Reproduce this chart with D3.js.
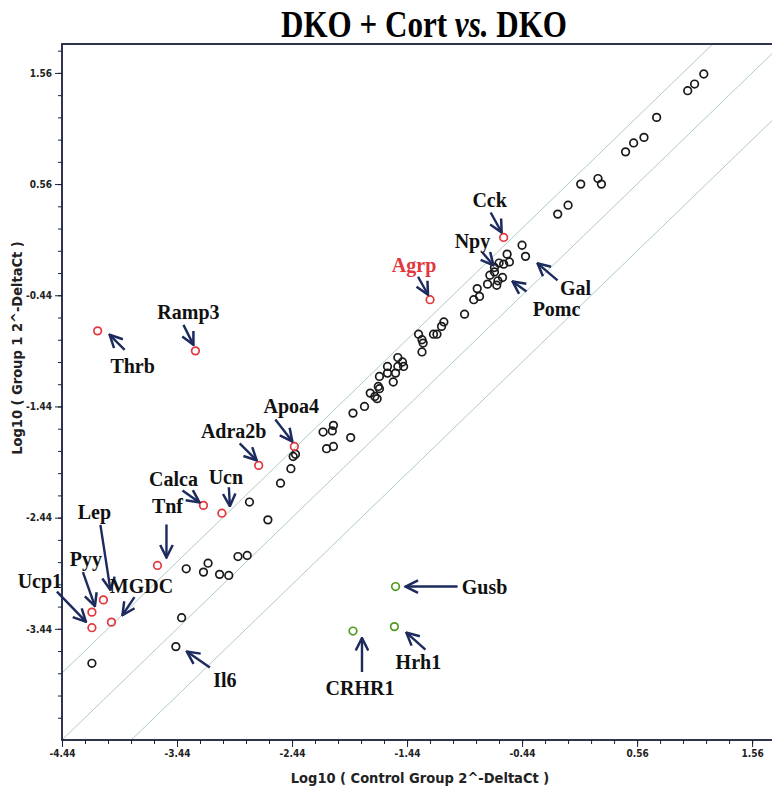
<!DOCTYPE html>
<html>
<head>
<meta charset="utf-8">
<script src="https://d3js.org/d3.v7.min.js"></script>
<style>
body { margin: 0; background: #fff; }
.axis text { font-family: "DejaVu Sans Condensed", "Liberation Sans Narrow", sans-serif; font-size: 10px; font-weight: bold; fill: #222; }
.axis path, .axis line { stroke: #1b1f3a; }
.gene { font-family: "Liberation Serif", "Times New Roman", serif; font-weight: bold; font-size: 20px; }
.atitle { font-family: "DejaVu Sans Condensed", "Liberation Sans Narrow", sans-serif; font-size: 14.5px; font-weight: bold; fill: #222; }
</style>
</head>
<body>
<div id="chart"></div>
<script>

// log10(2^-DeltaCt)
var otherControl = [1.14, 1.06, 1.00, 0.73, 0.62, 0.53, 0.46, 0.22, 0.25, 0.07, -0.04, -0.13,
  -0.44, -0.57, -0.64, -0.60, -0.55, -0.72, -0.68, -0.74, -0.66, -0.65, -0.83, -0.81, -0.86,
  -0.94, -1.12, -1.14, -1.21, -1.18, -1.34, -1.31, -1.30, -1.31, -1.52, -1.48, -1.52, -1.47,
  -1.61, -1.54, -1.61, -1.68, -1.56, -1.76, -1.69, -1.68, -1.72, -1.70, -1.81, -1.91, -2.08,
  -2.09, -2.17, -1.93, -2.08, -2.14, -2.41, -2.43, -2.45, -2.54, -2.81, -2.65, -2.91, -2.83,
  -3.17, -3.21, -3.36, -3.07, -2.99, -3.40, -4.18];
var otherGroup1 = [1.55, 1.46, 1.40, 1.16, 0.98, 0.93, 0.85, 0.61, 0.56, 0.56, 0.37, 0.29,
  0.01, -0.07, -0.15, -0.16, -0.14, -0.26, -0.23, -0.34, -0.35, -0.31, -0.38, -0.45, -0.48,
  -0.61, -0.68, -0.72, -0.79, -0.79, -0.79, -0.84, -0.87, -0.95, -1.00, -1.04, -1.08, -1.08,
  -1.08, -1.14, -1.14, -1.17, -1.22, -1.32, -1.26, -1.28, -1.35, -1.37, -1.44, -1.50, -1.61,
  -1.66, -1.67, -1.72, -1.80, -1.82, -1.87, -1.89, -2.00, -2.13, -2.30, -2.46, -2.79, -2.78,
  -2.85, -2.93, -2.90, -2.95, -2.96, -3.34, -3.75];

// pointed-at genes inside the 4-fold band
var bandGenes = ["Npy", "Gal", "Pomc", "Il6"];
var bandControl = [-0.68, -0.41, -0.61, -3.45];
var bandGroup1 = [-0.19, -0.09, -0.28, -3.60];

// up-regulated (red)
var upGenes = ["Cck", "Agrp", "Ramp3", "Thrb", "Apoa4", "Adra2b", "Calca", "Ucn", "Tnf", "Lep", "Pyy", "Ucp1", "MGDC"];
var upControl = [-0.60, -1.24, -3.28, -4.13, -2.42, -2.73, -3.21, -3.05, -3.61, -4.08, -4.18, -4.18, -4.01];
var upGroup1 = [0.08, -0.48, -0.94, -0.76, -1.80, -1.97, -2.33, -2.40, -2.87, -3.18, -3.29, -3.43, -3.38];

// down-regulated (green)
var downGenes = ["Gusb", "Hrh1", "CRHR1"];
var downControl = [-1.54, -1.55, -1.91];
var downGroup1 = [-3.06, -3.42, -3.46];

var foldBounds = [Math.log10(4), 0, -Math.log10(4)];
var xTickLabels = ["-4.44", "-3.44", "-2.44", "-1.44", "-0.44", "0.56", "1.56"];
var yTickLabels = ["1.56", "0.56", "-0.44", "-1.44", "-2.44", "-3.44"];

// label placement, pixels relative to the point: text, arrow tail, arrow tip
var callouts = {
  Cck:    [-14, -37, -13, -25, -2, -5],
  Npy:    [-22, -26, -12, -15, -1, -2],
  Agrp:   [-16, -35, -12, -23, -2, -5],
  Gal:    [50, 32, 32, 24, 12, 7],
  Pomc:   [54, 32, 24, 14, 10, 4],
  Ramp3:  [-7, -39, -12, -26, -2, -6],
  Thrb:   [35, 35, 27, 19, 12, 4],
  Apoa4:  [-3, -40, -19, -27, -2, -5],
  Adra2b: [-25, -34, -19, -22, -2, -5],
  Calca:  [-30, -26, -21, -15, -4, -3],
  Ucn:    [4, -36, 7, -26, 8, -7],
  Tnf:    [10, -59, 9, -41, 9, -8],
  Lep:    [-9, -88, -3, -75, 7, -10],
  Pyy:    [-6, -53, -9, -40, 3, -6],
  Ucp1:   [-52, -47, -35, -36, -6, -6],
  MGDC:   [30, -36, 23, -25, 11, -7],
  Il6:    [49, 33, 34, 21, 11, 5],
  Gusb:   [89, 0, 62, 0, 10, 0],
  Hrh1:   [24, 35, 31, 23, 12, 6],
  CRHR1:  [7, 57, 9, 41, 9, 7]
};

var width = 772, height = 795;
var x0 = 62, x1 = 782, yTop = 44, yBot = 740;

var svg = d3.select("#chart").append("svg")
  .attr("width", width)
  .attr("height", height);

var x = d3.scaleLinear().domain([-4.44, 1.82]).range([x0, x1]);
var y = d3.scaleLinear().domain([-4.44, 1.82]).range([yBot, yTop]);

svg.append("defs").append("marker")
  .attr("id", "head")
  .attr("markerUnits", "userSpaceOnUse")
  .attr("viewBox", "0 0 12 12")
  .attr("refX", 11).attr("refY", 6)
  .attr("markerWidth", 15).attr("markerHeight", 15)
  .attr("orient", "auto")
  .append("path")
  .attr("d", "M1,1 L11,6 L1,11")
  .attr("fill", "none")
  .attr("stroke", "#1c2a5e")
  .attr("stroke-width", 2);

// title
svg.append("text")
  .attr("transform", "translate(424,37) scale(0.84,1)")
  .attr("text-anchor", "middle")
  .style("font-family", "'Liberation Serif', 'Times New Roman', serif")
  .style("font-weight", "bold")
  .style("font-size", "37px")
  .html("DKO + Cort <tspan font-style='italic'>vs.</tspan> DKO");

// fold-change guide lines
svg.append("clipPath").attr("id", "plotclip")
  .append("rect").attr("x", x0).attr("y", yTop).attr("width", x1 - x0).attr("height", yBot - yTop);

svg.append("g").attr("clip-path", "url(#plotclip)")
  .selectAll("line")
  .data(foldBounds)
  .enter().append("line")
    .attr("x1", function(d) { return x(-4.44 - 1); })
    .attr("y1", function(d) { return y(-4.44 - 1 + d); })
    .attr("x2", function(d) { return x(1.82 + 1); })
    .attr("y2", function(d) { return y(1.82 + 1 + d); })
    .attr("stroke", "#b0cac8")
    .attr("stroke-width", 1);

// axes
var majors = d3.range(7).map(function(i) { return -4.44 + i; });
var minors = d3.range(32).map(function(i) { return -4.44 + 0.2 * i; }).filter(function(v) { return v < 1.82; });

svg.append("g").attr("class", "axis")
  .attr("transform", "translate(0," + yBot + ")")
  .call(d3.axisBottom(x).tickValues(minors).tickSize(4).tickFormat(""))
  .call(function(g) { g.select(".domain").remove(); });
svg.append("g").attr("class", "axis")
  .attr("transform", "translate(0," + yBot + ")")
  .call(d3.axisBottom(x).tickValues(majors).tickSize(7).tickPadding(3)
    .tickFormat(function(d, i) { return xTickLabels[i]; }))
  .call(function(g) { g.select(".domain").remove(); });

svg.append("g").attr("class", "axis")
  .attr("transform", "translate(" + x0 + ",0)")
  .call(d3.axisLeft(y).tickValues(minors.slice(1)).tickSize(4).tickFormat(""))
  .call(function(g) { g.select(".domain").remove(); });
svg.append("g").attr("class", "axis")
  .attr("transform", "translate(" + x0 + ",0)")
  .call(d3.axisLeft(y).tickValues(majors.slice(1).reverse()).tickSize(7).tickPadding(3)
    .tickFormat(function(d, i) { return yTickLabels[i]; }))
  .call(function(g) { g.select(".domain").remove(); });

// frame
svg.append("rect")
  .attr("x", x0).attr("y", yTop)
  .attr("width", x1 - x0).attr("height", yBot - yTop)
  .attr("fill", "none")
  .attr("stroke", "#1b1f3a")
  .attr("stroke-width", 1.8);

svg.append("text").attr("class", "atitle")
  .attr("x", 420).attr("y", 783)
  .attr("text-anchor", "middle")
  .text("Log10 ( Control Group 2^-DeltaCt )");

svg.append("text").attr("class", "atitle")
  .attr("transform", "translate(22,348) rotate(-90)")
  .attr("text-anchor", "middle")
  .text("Log10 ( Group 1 2^-DeltaCt )");

// points
function drawSet(names, xs, ys, color) {
  svg.append("g").selectAll("circle")
    .data(xs.map(function(v, i) { return {x: v, y: ys[i], name: names ? names[i] : null}; }))
    .enter().append("circle")
      .attr("cx", function(d) { return x(d.x); })
      .attr("cy", function(d) { return y(d.y); })
      .attr("r", 3.8)
      .attr("fill", "none")
      .attr("stroke", color)
      .attr("stroke-width", 1.7);
}
drawSet(null, otherControl, otherGroup1, "#1a1a1a");
drawSet(bandGenes, bandControl, bandGroup1, "#1a1a1a");
drawSet(upGenes, upControl, upGroup1, "#e2373d");
drawSet(downGenes, downControl, downGroup1, "#4f9a1e");

// callouts
var labelled = [];
bandGenes.forEach(function(g, i) { labelled.push({name: g, x: bandControl[i], y: bandGroup1[i]}); });
upGenes.forEach(function(g, i) { labelled.push({name: g, x: upControl[i], y: upGroup1[i]}); });
downGenes.forEach(function(g, i) { labelled.push({name: g, x: downControl[i], y: downGroup1[i]}); });

var ann = svg.append("g").selectAll("g")
  .data(labelled)
  .enter().append("g");

ann.append("line")
  .attr("x1", function(d) { return x(d.x) + callouts[d.name][2]; })
  .attr("y1", function(d) { return y(d.y) + callouts[d.name][3]; })
  .attr("x2", function(d) { return x(d.x) + callouts[d.name][4]; })
  .attr("y2", function(d) { return y(d.y) + callouts[d.name][5]; })
  .attr("stroke", "#1c2a5e")
  .attr("stroke-width", 2.4)
  .attr("marker-end", "url(#head)");

ann.append("text").attr("class", "gene")
  .attr("x", function(d) { return x(d.x) + callouts[d.name][0]; })
  .attr("y", function(d) { return y(d.y) + callouts[d.name][1]; })
  .attr("dy", "0.35em")
  .attr("text-anchor", "middle")
  .attr("fill", function(d) { return d.name === "Agrp" ? "#e2373d" : "#111"; })
  .text(function(d) { return d.name; });

</script>
</body>
</html>
